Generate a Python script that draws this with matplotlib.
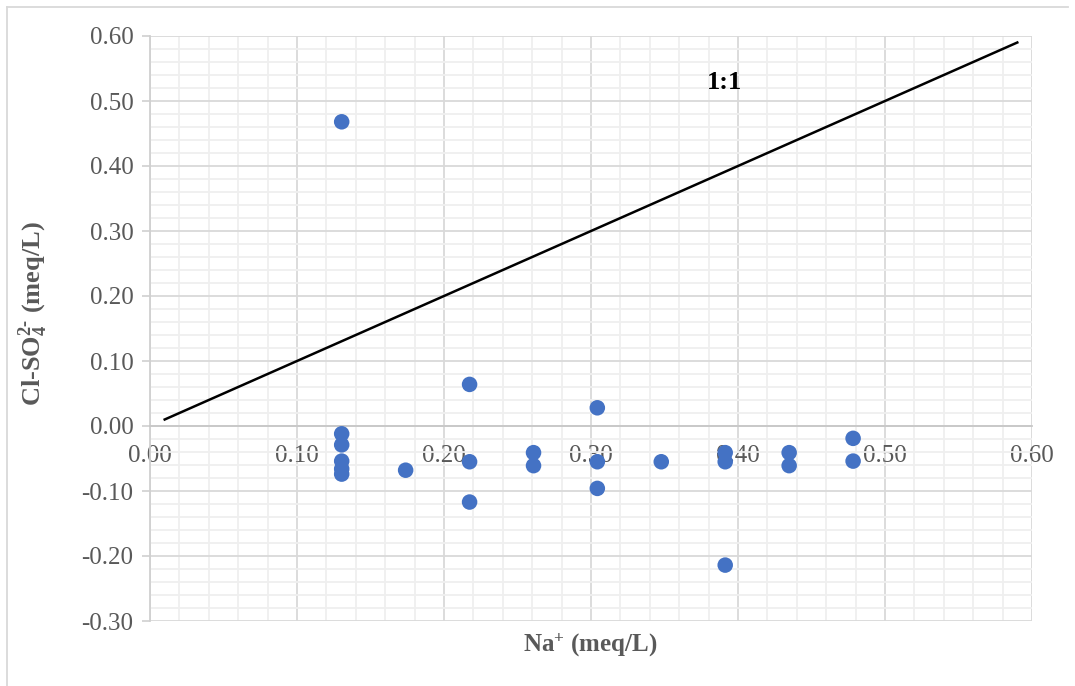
import matplotlib
matplotlib.use("Agg")
import matplotlib.pyplot as plt
from matplotlib.ticker import MultipleLocator, FormatStrFormatter
from matplotlib.lines import Line2D

plt.rcParams['font.family'] = ['Liberation Serif', 'DejaVu Serif']
plt.rcParams['mathtext.fontset'] = 'custom'
plt.rcParams['mathtext.rm'] = 'Liberation Serif:bold'
plt.rcParams['mathtext.bf'] = 'Liberation Serif:bold'
plt.rcParams['mathtext.default'] = 'bf'

# Data (meq/L)
na = [0.1304, 0.1304, 0.1304, 0.1304, 0.1304, 0.1304,
      0.1739,
      0.2174, 0.2174, 0.2174,
      0.2609, 0.2609,
      0.3043, 0.3043, 0.3043,
      0.3478,
      0.3913, 0.3913, 0.3913,
      0.4348, 0.4348,
      0.4783, 0.4783]
cl_so4 = [0.468, -0.012, -0.029, -0.054, -0.066, -0.074,
          -0.068,
          0.064, -0.055, -0.117,
          -0.041, -0.061,
          0.028, -0.055, -0.096,
          -0.055,
          -0.041, -0.055, -0.214,
          -0.041, -0.061,
          -0.019, -0.054]
line_x = [0.01, 0.59]
line_y = [0.01, 0.59]

fig = plt.figure(figsize=(10.75, 6.86), dpi=100)
ax = fig.add_axes([150/1075, 65/686, (1032-150)/1075, (621-36)/686])

ax.set_xlim(0, 0.60)
ax.set_ylim(-0.30, 0.60)
ax.xaxis.set_major_locator(MultipleLocator(0.10))
ax.xaxis.set_minor_locator(MultipleLocator(0.02))
ax.yaxis.set_major_locator(MultipleLocator(0.10))
ax.yaxis.set_minor_locator(MultipleLocator(0.02))
ax.xaxis.set_major_formatter(FormatStrFormatter('%.2f'))
ax.yaxis.set_major_formatter(FormatStrFormatter('%.2f'))

ax.grid(which='minor', color='#efefef', linewidth=1.3, zorder=0)
ax.grid(which='major', color='#d9d9d9', linewidth=1.3, zorder=0)
ax.set_axisbelow(True)

for s in ['top', 'right']:
    ax.spines[s].set_visible(False)
ax.spines['left'].set_color('#d0d0d0')
ax.spines['left'].set_linewidth(1.3)
ax.spines['bottom'].set_position(('data', 0))
ax.spines['bottom'].set_color('#c8c8c8')
ax.spines['bottom'].set_linewidth(1.3)

ax.tick_params(axis='y', which='major', length=6, color='#d0d0d0', width=1.2,
               labelsize=18, labelcolor='#595959', pad=6)
ax.tick_params(axis='x', which='major', length=0, labelsize=18,
               labelcolor='#595959', pad=14)
ax.tick_params(which='minor', length=0)

ax.plot(line_x, line_y, color='black', linewidth=1.8, zorder=3)
ax.scatter(na, cl_so4, s=125, color='#4472C4', edgecolors='none', zorder=4)

ax.text(0.391, 0.528, '1:1', fontsize=19, fontweight='bold', color='black',
        ha='center', va='center')

fig.text(590/1075, 1 - 645/686, r'Na$^{+}$ (meq/L)', fontsize=18, fontweight='bold',
         color='#595959', ha='center', va='center')
fig.text(33/1075, 1 - 314/686, r'Cl-SO$_{4}^{2\text{-}}$ (meq/L)', fontsize=19,
         fontweight='bold', color='#595959', ha='center', va='center',
         rotation=90)

# chart area border (left and top)
fig.add_artist(Line2D([7/1075, 7/1075], [0, 1 - 7/686], transform=fig.transFigure,
                      color='#d9d9d9', linewidth=1.3))
fig.add_artist(Line2D([7/1075, 1068/1075], [1 - 7/686, 1 - 7/686], transform=fig.transFigure,
                      color='#d9d9d9', linewidth=1.3))

fig.savefig('out.png', dpi=100)
